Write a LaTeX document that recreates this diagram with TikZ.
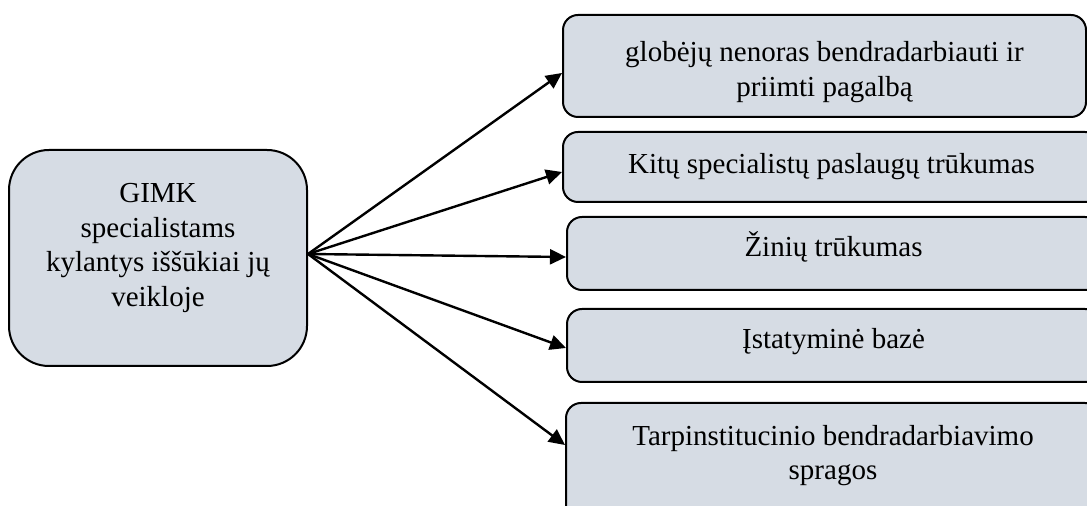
\documentclass[tikz,border=0pt]{standalone}
\usepackage{fontspec}
\setmainfont{Liberation Serif}
\usepackage{tikz}
\usetikzlibrary{arrows.meta}
\definecolor{boxfill}{RGB}{214,220,228}

\begin{document}
\begin{tikzpicture}[x=0.5pt,y=-0.5pt,>={Triangle[length=8pt,width=7.5pt]},
    font=\fontsize{14.5}{17.35}\selectfont,
    every node/.style={draw,line width=1pt,fill=boxfill,align=center,inner sep=0pt},
    cause/.style={rounded corners=7.5pt,minimum width=266.5pt,minimum height=36.5pt}]
    \useasboundingbox (0,0) rectangle (1087,506);
    \clip (0,0) rectangle (1087,506);
    \node[rounded corners=20pt,minimum width=149pt,minimum height=108pt,text depth=13pt] (c0) at (158,258)
        {GIMK\\specialistams\\kylantys iššūkiai jų\\veikloje};
    \node[cause,minimum width=261.5pt,minimum height=51pt,text height=33.4pt] (c1) at (824.5,66)
        {globėjų nenoras bendradarbiauti ir\\priimti pagalbą};
    \node[cause,minimum width=268.5pt,minimum height=35pt] (c2) at (831.5,167)
        {Kitų specialistų paslaugų trūkumas};
    \node[cause,text depth=9pt] (c3) at (833.5,253.5) {Žinių trūkumas};
    \node[cause,text depth=7pt] (c4) at (833.5,345.5) {Įstatyminė bazė};
    \node[cause,minimum width=267pt,minimum height=58.5pt,text depth=9pt] (c5) at (833,461.5)
        {Tarpinstitucinio bendradarbiavimo\\spragos};
    \path[->,line width=1.2pt] ([yshift=2pt]c0.east) edge ([yshift=-3.5pt]c1.west);
    \path[->,line width=1.2pt] ([yshift=2pt]c0.east) edge ([yshift=-2.5pt]c2.west);
    \path[->,line width=1.2pt] ([yshift=2pt]c0.east) edge ([yshift=-1.75pt]c3.west);
    \path[->,line width=1.2pt] ([yshift=2pt]c0.east) edge ([yshift=-1.25pt]c4.west);
    \path[->,line width=1.2pt] ([yshift=2pt]c0.east) edge ([yshift=8.25pt]c5.west);
\end{tikzpicture}
\end{document}
